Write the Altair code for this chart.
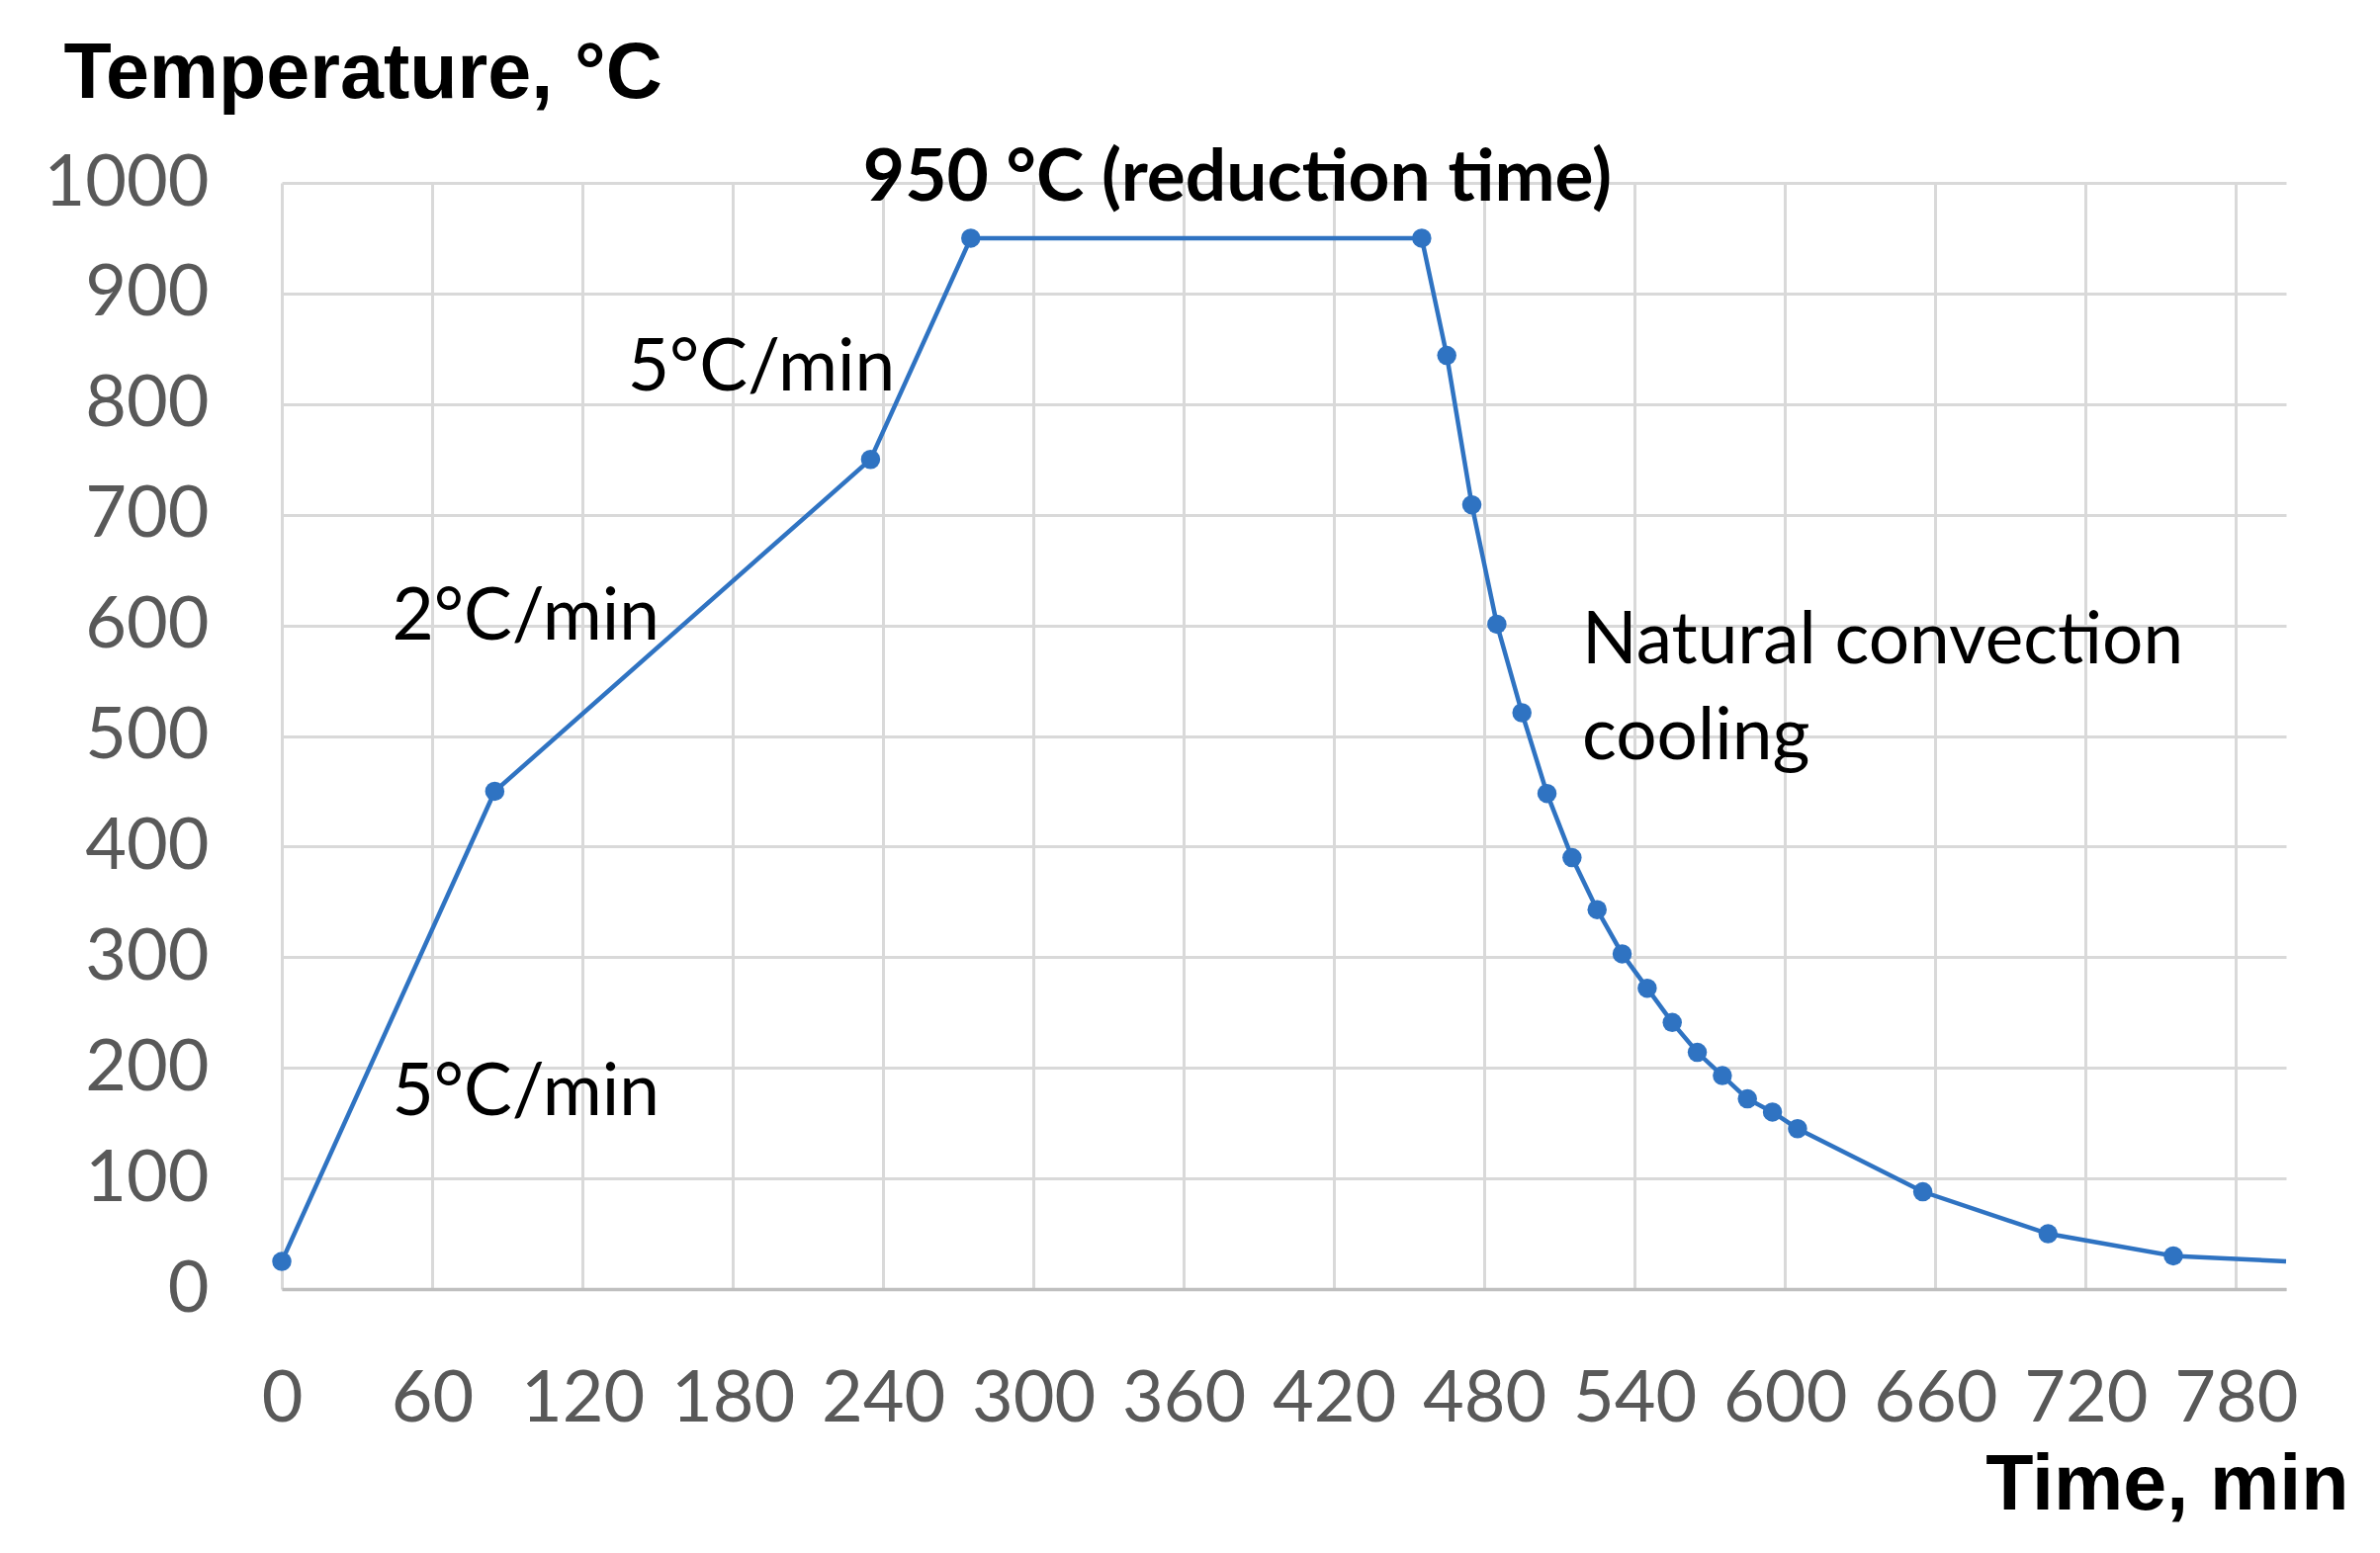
import altair as alt
import pandas as pd

# ---- data ----
times = [0, 85, 235, 275, 455, 465, 475, 485, 495, 505, 515, 525, 535, 545,
         555, 565, 575, 585, 595, 605, 655, 705, 755, 800]
temps = [25, 450, 750, 950, 950, 844, 709, 601, 521, 448, 390, 343, 303, 272,
         241, 214, 193, 172, 160, 145, 88, 50, 30, 25]
has_marker = [True] * 23 + [False]

x_ticks = list(range(0, 781, 60))
y_ticks = list(range(0, 1001, 100))

ann_text = ["5°C/min", "2°C/min", "5°C/min", "Natural convection", "cooling"]
ann_t = [44, 44, 138, 519, 519]
ann_y = [177, 607, 832, 585, 499]

bold_text = ["950 °C (reduction time)"]
bold_t = [232]
bold_y = [1004]

df = pd.DataFrame({"t": times, "T": temps, "m": has_marker})
ann = pd.DataFrame({"label": ann_text, "t": ann_t, "T": ann_y})
bold = pd.DataFrame({"label": bold_text, "t": bold_t, "T": bold_y})

BLUE = "#2f73c2"
FONT = "Lato"

xscale = alt.Scale(domain=[0, 800], nice=False, zero=False)
yscale = alt.Scale(domain=[0, 1000], nice=False)

x_enc = alt.X(
    "t:Q", scale=xscale,
    axis=alt.Axis(
        values=x_ticks, title="Time, min", grid=True, gridColor="#d9d9d9",
        gridWidth=3, domainColor="#bfbfbf", domainWidth=3.5, ticks=False,
        labelFont=FONT, labelFontSize=72, labelColor="#595959", labelPadding=76,
        labelFlush=False, format="d",
        titleFont="Liberation Sans", titleFontSize=79, titleFontWeight="bold",
        titleColor="#000000", titleAnchor="end", titleAlign="right",
        titleBaseline="alphabetic", titleX=2090, titleY=222,
    ),
)
y_enc = alt.Y(
    "T:Q", scale=yscale,
    axis=alt.Axis(
        values=y_ticks, title="Temperature, °C", grid=True, gridColor="#d9d9d9",
        gridWidth=3, domain=False, ticks=False,
        labelFont=FONT, labelFontSize=72, labelColor="#595959", labelPadding=74,
        labelFlush=False, format="d",
        titleFont="Liberation Sans", titleFontSize=79, titleFontWeight="bold",
        titleColor="#000000", titleAngle=0, titleAlign="left",
        titleBaseline="alphabetic", titleX=-221, titleY=-87,
    ),
)

line = alt.Chart(df).mark_line(color=BLUE, strokeWidth=4.5).encode(x=x_enc, y=y_enc)
points = alt.Chart(df).transform_filter("datum.m").mark_point(
    filled=True, color=BLUE, size=380, opacity=1, shape="circle"
).encode(x="t:Q", y="T:Q")

labels = alt.Chart(ann).mark_text(
    font=FONT, fontSize=73, color="#000000", align="left", baseline="middle"
).encode(x="t:Q", y="T:Q", text="label:N")

bold_labels = alt.Chart(bold).mark_text(
    font=FONT, fontSize=73, fontWeight="bold", color="#000000",
    align="left", baseline="middle"
).encode(x="t:Q", y="T:Q", text="label:N")

chart = alt.layer(line, points, labels, bold_labels).properties(
    width=2027, height=1119,
    padding={"left": 277, "top": 177, "right": 80, "bottom": 250},
    autosize=alt.AutoSizeParams(type="none"),
    background="white",
).configure_view(stroke=None)

chart.save("out.html", embed_options={"renderer": "svg", "actions": False})
